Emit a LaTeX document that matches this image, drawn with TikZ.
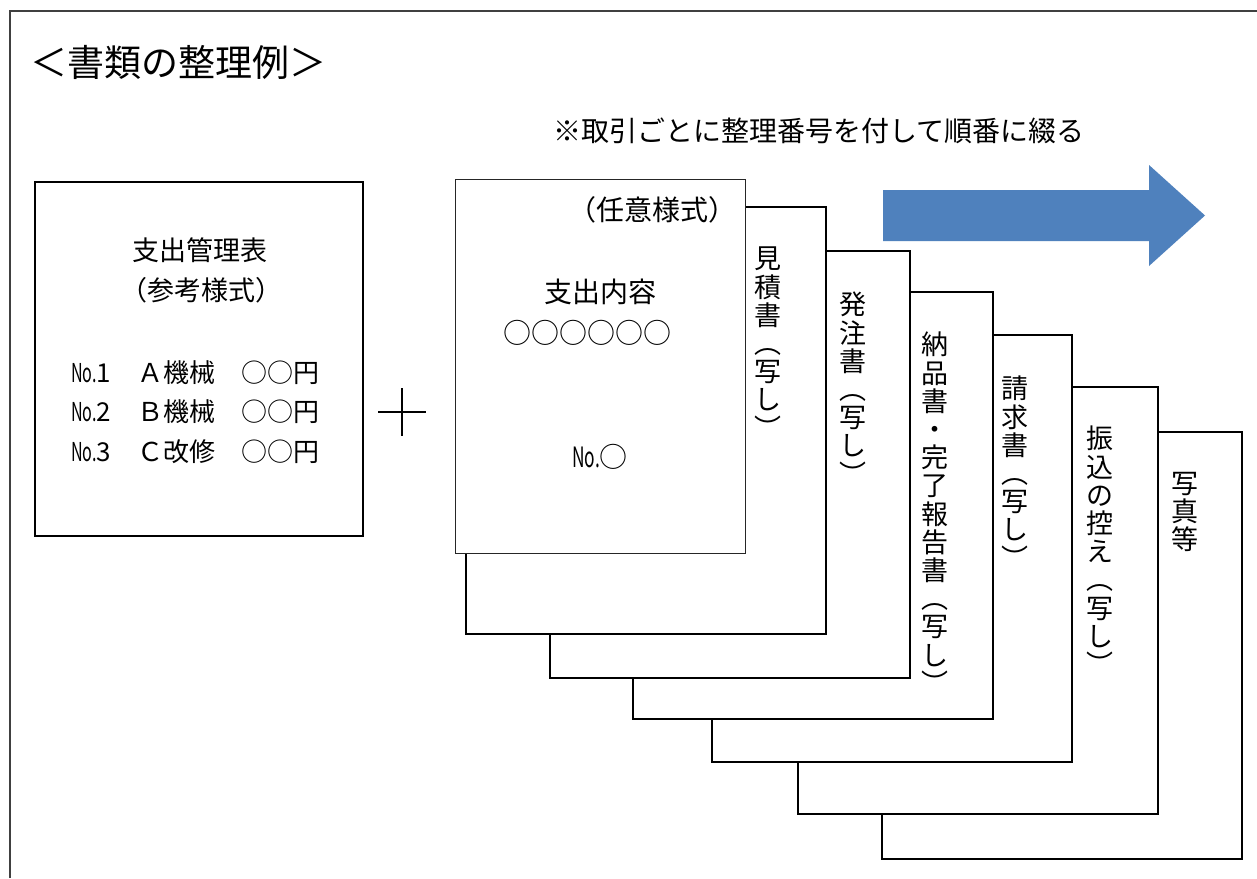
\documentclass[tikz,border=0pt]{standalone}
\usepackage{fontspec}
\usepackage{graphicx}
\newfontfamily\jp{Noto Sans CJK JP}
\definecolor{arrowblue}{HTML}{4F81BD}
\definecolor{framegray}{HTML}{404040}
\newcommand{\numno}{\scalebox{0.62}[1]{No.}}
\begin{document}
\begin{tikzpicture}[x=1pt,y=-1pt,
  txt/.style={font=\jp\fontsize{27}{27}\selectfont, inner sep=0pt},
  bigtxt/.style={font=\jp\fontsize{28}{28}\selectfont, inner sep=0pt},
  rowtxt/.style={font=\jp\fontsize{26}{26}\selectfont, inner sep=0pt, anchor=west},
  vtxt/.style={font=\jp\fontsize{27}{28.2}\selectfont, inner sep=0pt, align=center, anchor=north},
  docbox/.style={draw=black, line width=2pt, fill=white, minimum width=360pt, minimum height=427pt, inner sep=0pt},
  frontdoc/.style={draw=black!85, line width=1pt, fill=white, minimum width=290pt, minimum height=374pt, inner sep=0pt},
  leftbox/.style={draw=black, line width=2pt, fill=white, minimum width=328pt, minimum height=354pt, inner sep=0pt}]
\useasboundingbox (0,0) rectangle (1257,878);
\fill[white] (0,0) rectangle (1257,878);
% frame
\draw[framegray, line width=2pt] (9.5,878) -- (9.5,10.5) -- (1257,10.5);
% title
\node[font=\jp\fontsize{37}{37}\selectfont, inner sep=0pt] (title) at (178,62) {＜書類の整理例＞};
\node[bigtxt] (note) at (819,131) {※取引ごとに整理番号を付して順番に綴る};
% arrow
\fill[arrowblue] (883,190) -- (1149,190) -- (1149,165) -- (1205,215.5) -- (1149,266) -- (1149,241) -- (883,241) -- cycle;
% left box
\node[leftbox] (mgmt) at (199,359) {};
\node[txt] (mgmtT1) at (200,250) {支出管理表};
\node[txt] (mgmtT2) at (201,290) {（参考様式）};
\node[rowtxt] (r1a) at (71,373) {\numno1};
\node[rowtxt] (r1b) at (137,373) {Ａ機械};
\node[rowtxt] (r1c) at (241,373) {○○円};
\node[rowtxt] (r2a) at (71,412) {\numno2};
\node[rowtxt] (r2b) at (137,412) {Ｂ機械};
\node[rowtxt] (r2c) at (241,412) {○○円};
\node[rowtxt] (r3a) at (71,452) {\numno3};
\node[rowtxt] (r3b) at (137,452) {Ｃ改修};
\node[rowtxt] (r3c) at (241,452) {○○円};
% plus
\draw[line width=2pt] (378,412) -- (426,412);
\draw[line width=2pt] (402,388) -- (402,436);
% documents, back to front
\node[docbox] (d6) at (1062,645) {};
\node[docbox] (d5) at (977.5,600) {};
\node[docbox] (d4) at (892,548.5) {};
\node[docbox] (d3) at (812.5,505.5) {};
\node[docbox] (d2) at (730,464.5) {};
\node[docbox] (d1) at (646,420) {};
\node[frontdoc] (d0) at (600,366) {};
% vertical labels
\node[vtxt] (v1) at (768,247) {見\\積\\書\\︵\\写\\し\\︶};
\node[vtxt] (v2) at (853,292) {発\\注\\書\\︵\\写\\し\\︶};
\node[vtxt] (v3) at (935,332) {納\\品\\書\\・\\完\\了\\報\\告\\書\\︵\\写\\し\\︶};
\node[vtxt] (v4) at (1015,376) {請\\求\\書\\︵\\写\\し\\︶};
\node[vtxt] (v5) at (1100,426) {振\\込\\の\\控\\え\\︵\\写\\し\\︶};
\node[vtxt] (v6) at (1185,472) {写\\真\\等};
% front doc texts
\node[bigtxt] (f1) at (652,210) {（任意様式）};
\node[bigtxt] (f2) at (600,292) {支出内容};
\node[bigtxt] (f3) at (587,333) {○○○○○○};
\node[bigtxt] (f4) at (600,457) {\numno○};
\end{tikzpicture}
\end{document}
